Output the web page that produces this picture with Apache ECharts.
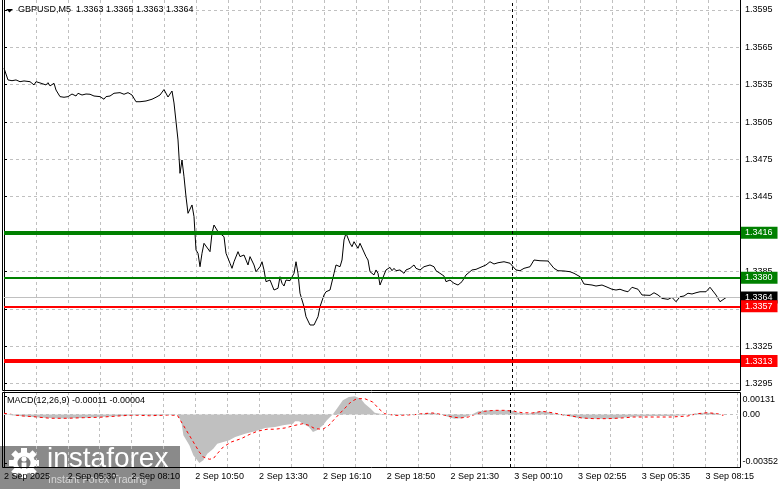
<!DOCTYPE html>
<html><head><meta charset="utf-8">
<script src="https://cdn.jsdelivr.net/npm/echarts@6/dist/echarts.min.js"></script>
<style>html,body{margin:0;padding:0;background:#fff}#c{width:781px;height:489px}</style>
</head><body><div id="c"></div>
<script>
// ---- data (bar index = 5-minute bar number from 2 Sep 02:50) ----
const priceBars = [0,2,4,6,8,10,11,13,15,16,18,19,21,22,23,25,26,28,30,32,34,36,37,39,41,43,45,48,50,51,53,55,56,58,60,62,64,66,68,71,72,74,76,77,78,80,82,84,85,87,88,89,90,91,92,93,94,95,96,97,98,99,100,101,103,104,105,107,110,111,113,114,115,117,118,120,122,123,125,126,128,129,130,131,133,135,137,138,139,140,141,142,143,145,146,147,148,150,151,153,155,157,158,160,161,163,165,166,168,169,170,171,173,174,175,177,178,179,181,182,183,185,186,187,188,190,191,193,194,195,196,198,200,201,203,205,206,208,209,210,213,215,216,218,220,221,223,225,227,229,231,234,236,239,241,243,245,247,250,251,253,256,258,260,263,265,268,272,275,277,280,283,285,288,290,294,296,299,301,304,306,308,310,312,314,315,317,319,320,323,325,327,329,330,332,334,336,338,340,342,344,346,348,351,353,354,356,358,359,361];
const priceValues = [1.35482,1.35388,1.35382,1.35388,1.35374,1.35380,1.35366,1.35374,1.35348,1.35374,1.35364,1.35374,1.35348,1.35366,1.35340,1.35361,1.35307,1.35254,1.35249,1.35254,1.35275,1.35259,1.35281,1.35267,1.35275,1.35273,1.35259,1.35254,1.35233,1.35254,1.35259,1.35281,1.35267,1.35286,1.35273,1.35286,1.35267,1.35213,1.35213,1.35219,1.35205,1.35233,1.35249,1.35241,1.35267,1.35311,1.35251,1.35299,1.35203,1.34906,1.34638,1.34745,1.34611,1.34450,1.34317,1.34303,1.34384,1.34290,1.34022,1.33996,1.33888,1.33996,1.34076,1.34089,1.34009,1.34157,1.34223,1.34169,1.34129,1.33996,1.33916,1.33875,1.33928,1.34009,1.33969,1.33982,1.33902,1.33969,1.33902,1.33848,1.33888,1.33928,1.33862,1.33768,1.33781,1.33701,1.33715,1.33808,1.33755,1.33733,1.33781,1.33768,1.33776,1.33835,1.33928,1.33835,1.33675,1.33567,1.33487,1.33420,1.33420,1.33487,1.33567,1.33661,1.33687,1.33701,1.33835,1.33902,1.33888,1.33942,1.34103,1.34157,1.34076,1.34049,1.34089,1.34036,1.34076,1.34062,1.33969,1.33942,1.33848,1.33822,1.33862,1.33835,1.33741,1.33822,1.33862,1.33883,1.33856,1.33875,1.33856,1.33862,1.33835,1.33862,1.33875,1.33902,1.33875,1.33862,1.33875,1.33888,1.33902,1.33888,1.33856,1.33835,1.33813,1.33768,1.33781,1.33755,1.33741,1.33768,1.33822,1.33862,1.33867,1.33888,1.33902,1.33928,1.33910,1.33920,1.33928,1.33936,1.33916,1.33862,1.33856,1.33875,1.33888,1.33942,1.33936,1.33934,1.33875,1.33856,1.33854,1.33848,1.33835,1.33808,1.33749,1.33741,1.33733,1.33741,1.33728,1.33707,1.33701,1.33707,1.33695,1.33687,1.33723,1.33733,1.33707,1.33661,1.33647,1.33658,1.33679,1.33661,1.33634,1.33642,1.33626,1.33642,1.33607,1.33647,1.33653,1.33675,1.33669,1.33679,1.33687,1.33687,1.33723,1.33707,1.33661,1.33607,1.33621,1.33640];

const macdBars = [0,8,18,28,38,48,58,68,78,84,87,89,90,93,95,98,100,102,105,107,110,113,116,121,126,131,136,140,145,146,148,150,153,155,157,160,162,165,167,170,173,176,179,181,184,186,190,193,200,208,215,220,223,226,230,234,238,243,250,254,258,263,269,273,278,283,288,293,300,306,313,320,326,335,341,346,351,356,360,361];
const macdValues = [0,-0.00011,-0.00022,-0.00029,-0.00025,-0.00018,-0.00011,-0.00004,-0.00007,0.00004,0,-0.00054,-0.00150,-0.00222,-0.00294,-0.00350,-0.00329,-0.00282,-0.00246,-0.00210,-0.00198,-0.00186,-0.00162,-0.00138,-0.00121,-0.00097,-0.00090,-0.00078,-0.00066,-0.00049,-0.00049,-0.00066,-0.00090,-0.00126,-0.00114,-0.00078,-0.00042,0.00001,0.00042,0.00102,0.00126,0.00131,0.00114,0.00078,0.00042,0.00013,0.00001,-0.00001,-0.00001,0.00001,0.00013,-0.00001,-0.00018,-0.00030,-0.00025,-0.00006,0.00023,0.00030,0.00030,0.00030,0.00013,0.00006,0.00023,0.00018,-0.00001,-0.00011,-0.00025,-0.00030,-0.00030,-0.00030,-0.00018,-0.00013,-0.00011,-0.00011,-0.00006,0.00006,0.00013,0.00011,-0.00001,-0.00011];

const signalBars = [0,8,15,23,32,40,48,57,65,73,82,83,87,90,94,98,100,103,105,107,110,114,119,123,127,132,136,141,146,150,153,156,160,163,166,170,174,177,181,185,188,191,196,198,206,210,215,220,225,229,233,236,241,246,251,256,260,265,270,275,280,285,290,296,303,310,316,326,335,343,348,353,358,360,361];
const signalValues = [0.00009,-0.00009,-0.00016,-0.00027,-0.00027,-0.00023,-0.00020,-0.00011,-0.00004,-0.00009,-0.00004,0.00001,-0.00006,-0.00078,-0.00174,-0.00270,-0.00306,-0.00322,-0.00318,-0.00282,-0.00234,-0.00198,-0.00174,-0.00145,-0.00121,-0.00106,-0.00106,-0.00097,-0.00078,-0.00066,-0.00078,-0.00102,-0.00106,-0.00078,-0.00030,0.00030,0.00090,0.00114,0.00114,0.00090,0.00042,0.00006,-0.00006,-0.00006,-0.00001,0.00006,0.00011,-0.00001,-0.00018,-0.00025,-0.00018,-0.00001,0.00023,0.00030,0.00030,0.00023,0.00013,0.00011,0.00023,0.00013,-0.00001,-0.00011,-0.00025,-0.00030,-0.00030,-0.00025,-0.00018,-0.00018,-0.00018,-0.00011,0.00006,0.00013,0.00006,-0.00006,-0.00004];

const xTickLabels = ['2 Sep 2025','2 Sep 05:30','2 Sep 08:10','2 Sep 10:50','2 Sep 13:30','2 Sep 16:10','2 Sep 18:50','2 Sep 21:30','3 Sep 00:10','3 Sep 02:55','3 Sep 05:35','3 Sep 08:15'];
const priceTicks = [1.3295,1.3325,1.3355,1.3385,1.3415,1.3445,1.3475,1.3505,1.3535,1.3565,1.3595];
const macdTicks = [0.00131, 0, -0.00352];
const levelValues = [1.3416, 1.3380, 1.3364, 1.3357, 1.3313];
const daySeparatorBar = 254;
const titleText = 'GBPUSD,M5  1.3363 1.3365 1.3363 1.3364';
const macdTitle = 'MACD(12,26,9) -0.00011 -0.00004';

// ---- styling ----
const FONT = '"Liberation Sans", Arial, sans-serif';
const levelStyles = [
  {color:'#008000', width:4},
  {color:'#008000', width:2},
  {color:'#c0c0c0', width:1, labelBg:'#000000'},
  {color:'#ff0000', width:2},
  {color:'#ff0000', width:4}
];
const gridLine = {color:'#c0c0c0', type:[3,3], width:1};

const pricePairs = priceBars.map((b,i)=>[b, priceValues[i]]);
const macdPairs = macdBars.map((b,i)=>[b, macdValues[i]]);
const signalPairs = signalBars.map((b,i)=>[b, signalValues[i]]);

const levelMarks = levelValues.map((v,i)=>({
  yAxis: v,
  lineStyle: {color: levelStyles[i].color, width: levelStyles[i].width, type:'solid'},
  label: {show:true, position:'end', distance:1, formatter: v.toFixed(4),
    backgroundColor: levelStyles[i].labelBg || levelStyles[i].color,
    color:'#ffffff', padding:[2,5,1,4], fontSize:9, fontFamily:FONT}
}));
levelMarks.push({xAxis: daySeparatorBar, lineStyle:{color:'#000', type:[3,3], width:1}, label:{show:false}});

const chart = echarts.init(document.getElementById('c'), null, {renderer:'canvas'});
const xBase = {type:'value', min:0, max:368, interval:16,
  axisLine:{show:false}, axisTick:{show:false},
  splitLine:{show:true, lineStyle:gridLine}};

chart.setOption({
  animation:false,
  backgroundColor:'#ffffff',
  grid:[
    {left:4, right:41, top:0, height:390},
    {left:4, right:41, top:392, height:75}
  ],
  xAxis:[
    Object.assign({gridIndex:0, axisLabel:{show:false}}, xBase),
    Object.assign({gridIndex:1, axisLabel:{show:true, align:'left', margin:5, color:'#000', fontSize:9, fontFamily:FONT,
      formatter: v => (v % 32 === 0 && xTickLabels[v/32]) ? xTickLabels[v/32] : ''}}, xBase)
  ],
  yAxis:[
    {gridIndex:0, type:'value', position:'right', min:1.32898, max:1.36030,
      axisLine:{show:true, lineStyle:{color:'#000'}},
      axisTick:{show:true, customValues:priceTicks, length:3, lineStyle:{color:'#000'}},
      axisLabel:{customValues:priceTicks, formatter: v => v.toFixed(4), color:'#000', fontSize:9, fontFamily:FONT, margin:5},
      splitLine:{show:true, lineStyle:gridLine}},
    {gridIndex:1, type:'value', position:'right', min:-0.00378, max:0.00162,
      axisLine:{show:true, lineStyle:{color:'#000'}},
      axisTick:{show:true, customValues:macdTicks, length:3, lineStyle:{color:'#000'}},
      axisLabel:{customValues:macdTicks, color:'#000', fontSize:9, fontFamily:FONT, margin:5,
        formatter: v => v === 0 ? '0.00' : (v > 0 ? '{t|' + v.toFixed(5) + '}' : '{b|' + v.toFixed(5) + '}'),
        rich:{t:{padding:[7,0,0,0], fontSize:9, fontFamily:FONT, color:'#000'}, b:{padding:[0,0,3,0], fontSize:9, fontFamily:FONT, color:'#000'}}},
      splitLine:{show:false}}
  ],
  series:[
    {type:'line', xAxisIndex:0, yAxisIndex:0, data:pricePairs, symbol:'none', z:3,
      lineStyle:{color:'#000', width:1},
      markLine:{silent:true, precision:5, symbol:['none','none'], animation:false, data:levelMarks}},
    {type:'line', xAxisIndex:1, yAxisIndex:1, data:macdPairs, symbol:'none', z:2,
      lineStyle:{width:0, color:'#c0c0c0'}, areaStyle:{color:'#c0c0c0', opacity:1},
      markLine:{silent:true, precision:6, symbol:['none','none'], animation:false, label:{show:false},
        data:[{yAxis:0, lineStyle:{color:'#c0c0c0', type:[3,3], width:1}},
              {xAxis:daySeparatorBar, lineStyle:{color:'#000', type:[3,3], width:1}}]}},
    {type:'line', xAxisIndex:1, yAxisIndex:1, data:signalPairs, symbol:'none', z:4,
      lineStyle:{color:'#ff0000', width:1, type:[3,3]}}
  ],
  graphic:[
    {type:'rect', z:50, silent:true, shape:{x:2.5, y:-1, width:738, height:391.5}, style:{fill:null, stroke:'#000', lineWidth:1}},
    {type:'rect', z:50, silent:true, shape:{x:2.5, y:392.5, width:738, height:75}, style:{fill:null, stroke:'#000', lineWidth:1}},
    {type:'polygon', z:60, shape:{points:[[6,9],[13,9],[9.5,12.5]]}, style:{fill:'#000'}},
    {type:'text', z:60, x:18, y:10, style:{text:titleText, fill:'#000', fontSize:9, fontFamily:FONT, verticalAlign:'middle'}},
    {type:'text', z:60, x:7, y:401, style:{text:macdTitle, fill:'#000', fontSize:9, fontFamily:FONT, verticalAlign:'middle'}},
    {type:'group', z:100, children:[
      {type:'rect', shape:{x:0, y:446, width:180, height:43}, style:{fill:'rgba(112,112,112,0.82)'}},
      ...[0,1,2,3,4,5,6,7].map(k=>({type:'rect', x:24, y:463, rotation:k*Math.PI/4,
         shape:{x:-3, y:-15, width:6, height:6}, style:{fill:'#ffffff'}})),
      {type:'circle', shape:{cx:24, cy:463, r:11}, style:{fill:'#ffffff'}},
      {type:'circle', shape:{cx:24, cy:463, r:6.5}, style:{fill:'#7a7a7a'}},
      {type:'circle', shape:{cx:24, cy:459, r:2.6}, style:{fill:'#ffffff'}},
      {type:'rect', shape:{x:21.6, y:462.5, width:4.8, height:15}, style:{fill:'#ffffff'}},
      {type:'text', x:47, y:459, style:{text:'instaforex', fill:'#ffffff', fontSize:28, fontFamily:FONT, verticalAlign:'middle'}},
      {type:'text', x:48, y:480.5, style:{text:'Instant Forex Trading', fill:'#d6d6d6', fontSize:10.5, fontFamily:FONT, verticalAlign:'middle'}}
    ]}
  ]
});
</script></body></html>
